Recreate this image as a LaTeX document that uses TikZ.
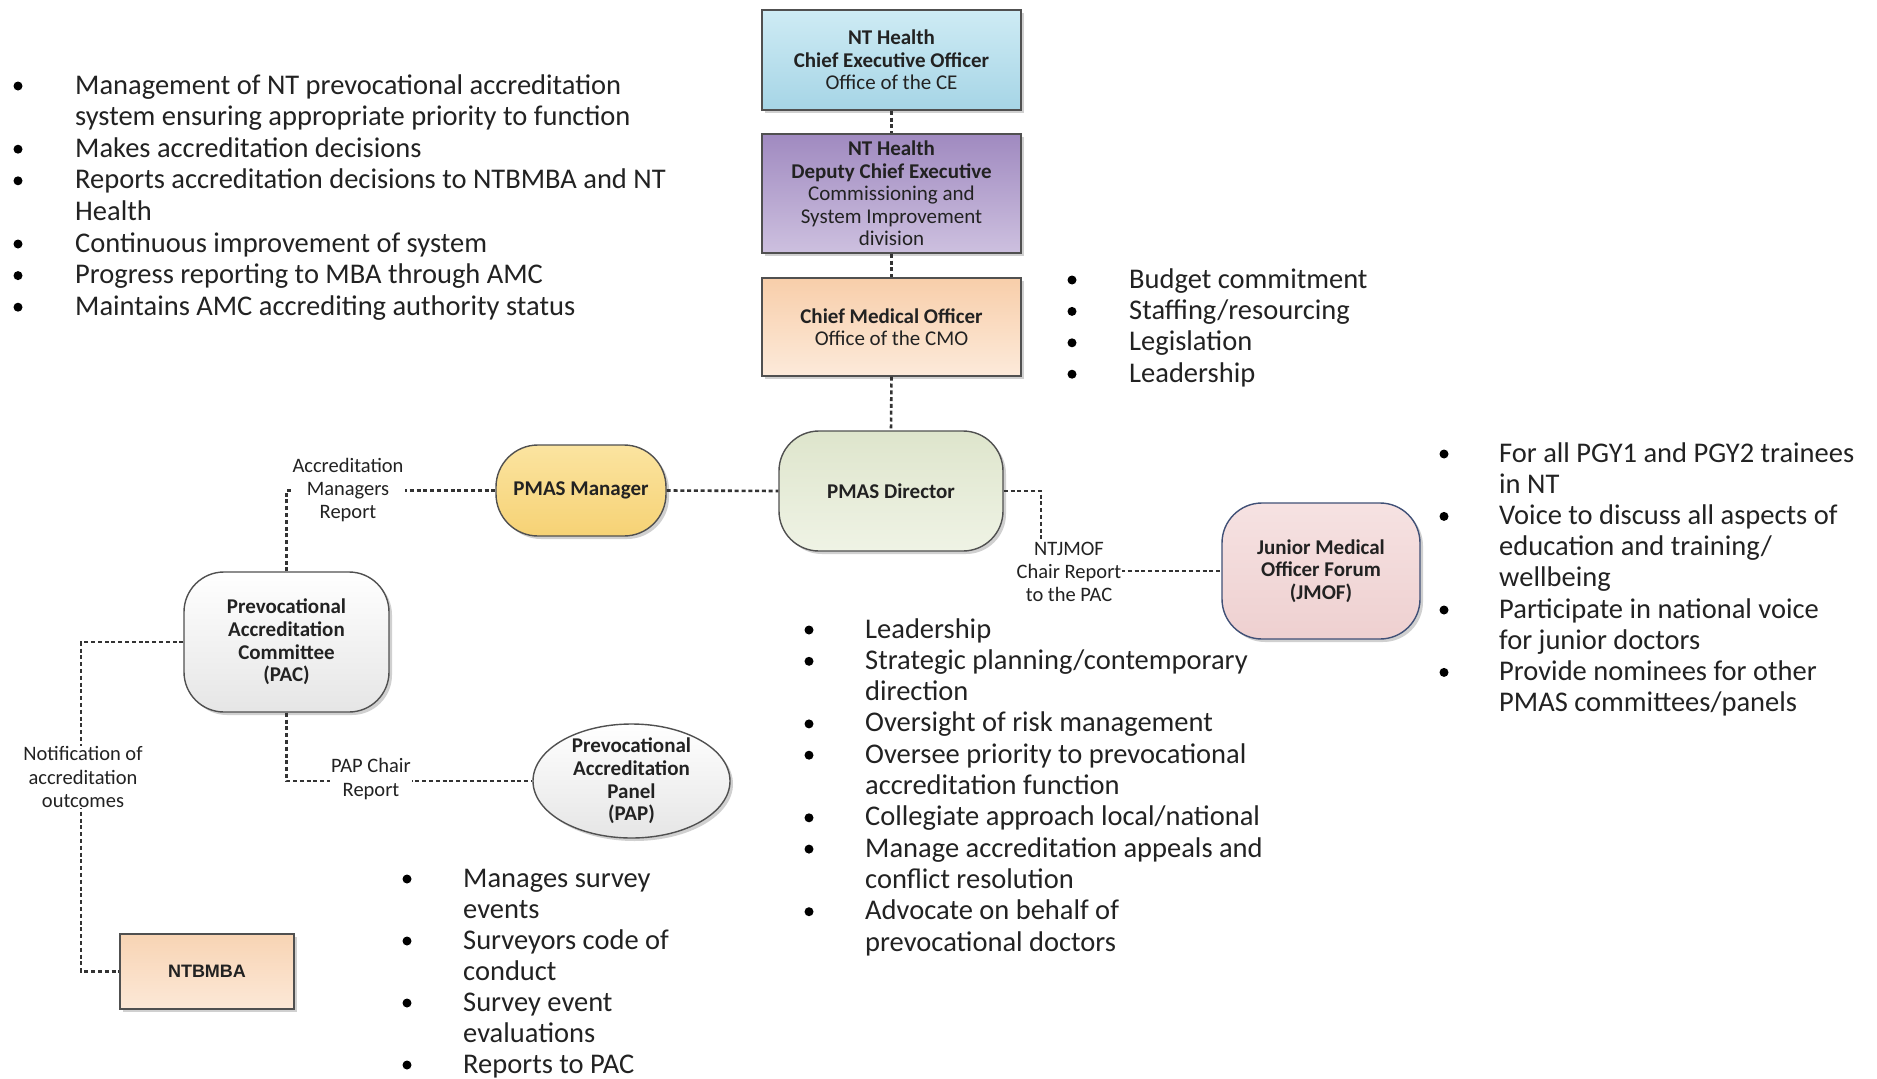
\documentclass[tikz,border=0pt]{standalone}
\usepackage{fontspec}
\setmainfont{Carlito}
\newfontfamily\arialfnt{Liberation Sans}
\usetikzlibrary{shapes.geometric,shadows}
\newcommand\boxfnt{\fontsize{21}{22.6}\selectfont}
\newcommand\labfnt{\fontsize{20.5}{23.2}\selectfont}
\newcommand\listfnt{\fontsize{28.5}{31.4}\selectfont}
\definecolor{txt}{HTML}{222222}
\definecolor{lineC}{HTML}{333333}
\definecolor{bordC}{HTML}{505050}
\begin{document}
\begin{tikzpicture}[x=1pt,y=-1pt,
  shad/.style={drop shadow={shadow xshift=3pt,shadow yshift=-3pt,fill=black!30,opacity=0.6}},
  sqbox/.style={draw=bordC,line width=1.4pt,align=center,font=\boxfnt,text=txt,inner sep=2pt,shad},
  rbox/.style={draw=bordC,line width=1.4pt,rounded corners=40pt,align=center,font=\boxfnt\bfseries,text=txt,inner sep=2pt,shad},
  conn/.style={draw=lineC,line width=2.6pt,dash pattern=on 4pt off 2.8pt},
  lab/.style={fill=white,inner sep=1pt,align=center,font=\labfnt,text=txt},
  ltext/.style={anchor=base west,inner sep=0pt,font=\listfnt,text=txt},
  dot/.style={circle,fill=black,inner sep=0pt,minimum size=9pt}
]
\useasboundingbox[fill=white] (0,0) rectangle (1877,1079);

% ---------- top hierarchy ----------
\node[sqbox,minimum width=259pt,minimum height=100pt,top color={rgb,255:red,206;green,235;blue,244},bottom color={rgb,255:red,166;green,213;blue,230}] (ceo) at (891.5,60)
  {\textbf{NT Health}\\\textbf{Chief Executive Officer}\\Office of the CE};
\node[sqbox,minimum width=259pt,minimum height=119pt,top color={rgb,255:red,160;green,138;blue,192},bottom color={rgb,255:red,205;green,192;blue,223}] (dep) at (891.5,193.5)
  {\textbf{NT Health}\\\textbf{Deputy Chief Executive}\\Commissioning and\\System Improvement\\division};
\node[sqbox,minimum width=259pt,minimum height=98pt,top color={rgb,255:red,248;green,206;blue,170},bottom color={rgb,255:red,252;green,234;blue,218}] (cmo) at (891.5,327)
  {\textbf{Chief Medical Officer}\\Office of the CMO};

% ---------- rounded nodes ----------
\node[rbox,minimum width=224pt,minimum height=120pt,top color={rgb,255:red,222;green,229;blue,204},bottom color={rgb,255:red,239;green,243;blue,229}] (dir) at (891,491) {PMAS Director};
\node[rbox,minimum width=170pt,minimum height=91pt,rounded corners=42pt,top color={rgb,255:red,251;green,228;blue,160},bottom color={rgb,255:red,246;green,210;blue,117}] (mgr) at (581,490.5) {PMAS Manager};
\node[rbox,minimum width=205pt,minimum height=140pt,top color=white,bottom color=black!10] (pac) at (286.5,642)
  {Prevocational\\Accreditation\\Committee\\(PAC)};
\node[rbox,draw={rgb,255:red,64;green,80;blue,118},minimum width=198pt,minimum height=136pt,top color={rgb,255:red,246;green,226;blue,226},bottom color={rgb,255:red,238;green,208;blue,208}] (jmof) at (1321,571)
  {Junior Medical\\Officer Forum\\(JMOF)};
\node[ellipse,draw=bordC,line width=1.4pt,minimum width=197pt,minimum height=114pt,inner sep=0pt,top color=white,bottom color=black!10,shad] (pap) at (631.5,781) {};
\node[align=center,font=\boxfnt\bfseries,text=txt,inner sep=0pt] (papt) at (pap.center) {Prevocational\\Accreditation\\Panel\\(PAP)};
\node[draw=bordC,line width=1.4pt,minimum width=174pt,minimum height=75pt,top color={rgb,255:red,248;green,212;blue,180},bottom color={rgb,255:red,252;green,232;blue,215},font=\arialfnt\fontsize{18}{20}\selectfont\bfseries,text=txt,shad] (ntb) at (207,971.5) {NTBMBA};

% ---------- connectors ----------
\draw[conn] (ceo.south) -- (dep.north);
\draw[conn] (dep.south) -- (cmo.north);
\draw[conn] (cmo.south) -- (dir.north);
\draw[conn] (mgr.east) -- (dir.west);
\draw[conn] (pac.north) |- (mgr.west);
\node[lab] (acclab) at (348,490) {Accreditation\\Managers\\Report};
\coordinate (nc) at (81,642);
\draw[conn] (pac.west) -- (nc) |- (ntb.west);
\node[lab] (notlab) at (83,777) {Notification of\\accreditation\\outcomes};
\draw[conn] (pac.south) |- (pap.west);
\node[lab] (paplab) at (371,779) {PAP Chair\\Report};
\coordinate (jc) at (1041,571);
\draw[conn] (dir.east) -| (jc) -- (jmof.west);
\node[lab] (jlab) at (1069,572) {NTJMOF\\Chair Report\\to the PAC};

% ---------- left list ----------
\node[dot] (ab1) at (18,86) {};
\node[ltext] (a1) at (75,94) {Management of NT prevocational accreditation};
\node[ltext] (a2) at (75,125.6) {system ensuring appropriate priority to function};
\node[dot] (ab3) at (18,149.2) {};
\node[ltext] (a3) at (75,157.2) {Makes accreditation decisions};
\node[dot] (ab4) at (18,180.8) {};
\node[ltext] (a4) at (75,188.8) {Reports accreditation decisions to NTBMBA and NT};
\node[ltext] (a5) at (75,220.4) {Health};
\node[dot] (ab6) at (18,244) {};
\node[ltext] (a6) at (75,252) {Continuous improvement of system};
\node[dot] (ab7) at (18,275.6) {};
\node[ltext] (a7) at (75,283.6) {Progress reporting to MBA through AMC};
\node[dot] (ab8) at (18,307.2) {};
\node[ltext] (a8) at (75,315.2) {Maintains AMC accrediting authority status};

% ---------- CMO list ----------
\node[dot] (bb1) at (1072,280) {};
\node[ltext] (b1) at (1129,288) {Budget commitment};
\node[dot] (bb2) at (1072,311.4) {};
\node[ltext] (b2) at (1129,319.4) {Staffing/resourcing};
\node[dot] (bb3) at (1072,342.8) {};
\node[ltext] (b3) at (1129,350.8) {Legislation};
\node[dot] (bb4) at (1072,374.2) {};
\node[ltext] (b4) at (1129,382.2) {Leadership};

% ---------- JMOF list ----------
\node[dot] (cb1) at (1444,454) {};
\node[ltext] (c1) at (1499,462) {For all PGY1 and PGY2 trainees};
\node[ltext] (c2) at (1499,493.2) {in NT};
\node[dot] (cb3) at (1444,516.4) {};
\node[ltext] (c3) at (1499,524.4) {Voice to discuss all aspects of};
\node[ltext] (c4) at (1499,555.6) {education and training/};
\node[ltext] (c5) at (1499,586.8) {wellbeing};
\node[dot] (cb6) at (1444,610) {};
\node[ltext] (c6) at (1499,618) {Participate in national voice};
\node[ltext] (c7) at (1499,649.2) {for junior doctors};
\node[dot] (cb8) at (1444,672.4) {};
\node[ltext] (c8) at (1499,680.4) {Provide nominees for other};
\node[ltext] (c9) at (1499,711.6) {PMAS committees/panels};

% ---------- Director list ----------
\node[dot] (db1) at (809,630) {};
\node[ltext] (d1) at (865,638) {Leadership};
\node[dot] (db2) at (809,661.3) {};
\node[ltext] (d2) at (865,669.3) {Strategic planning/contemporary};
\node[ltext] (d3) at (865,700.6) {direction};
\node[dot] (db4) at (809,723.9) {};
\node[ltext] (d4) at (865,731.9) {Oversight of risk management};
\node[dot] (db5) at (809,755.2) {};
\node[ltext] (d5) at (865,763.2) {Oversee priority to prevocational};
\node[ltext] (d6) at (865,794.5) {accreditation function};
\node[dot] (db7) at (809,817.8) {};
\node[ltext] (d7) at (865,825.8) {Collegiate approach local/national};
\node[dot] (db8) at (809,849.1) {};
\node[ltext] (d8) at (865,857.1) {Manage accreditation appeals and};
\node[ltext] (d9) at (865,888.4) {conflict resolution};
\node[dot] (db10) at (809,911.7) {};
\node[ltext] (d10) at (865,919.7) {Advocate on behalf of};
\node[ltext] (d11) at (865,951) {prevocational doctors};

% ---------- PAP list ----------
\node[dot] (eb1) at (407,879) {};
\node[ltext] (e1) at (463,887) {Manages survey};
\node[ltext] (e2) at (463,918) {events};
\node[dot] (eb3) at (407,941) {};
\node[ltext] (e3) at (463,949) {Surveyors code of};
\node[ltext] (e4) at (463,980) {conduct};
\node[dot] (eb5) at (407,1003) {};
\node[ltext] (e5) at (463,1011) {Survey event};
\node[ltext] (e6) at (463,1042) {evaluations};
\node[dot] (eb7) at (407,1065) {};
\node[ltext] (e7) at (463,1073) {Reports to PAC};
\end{tikzpicture}
\end{document}
